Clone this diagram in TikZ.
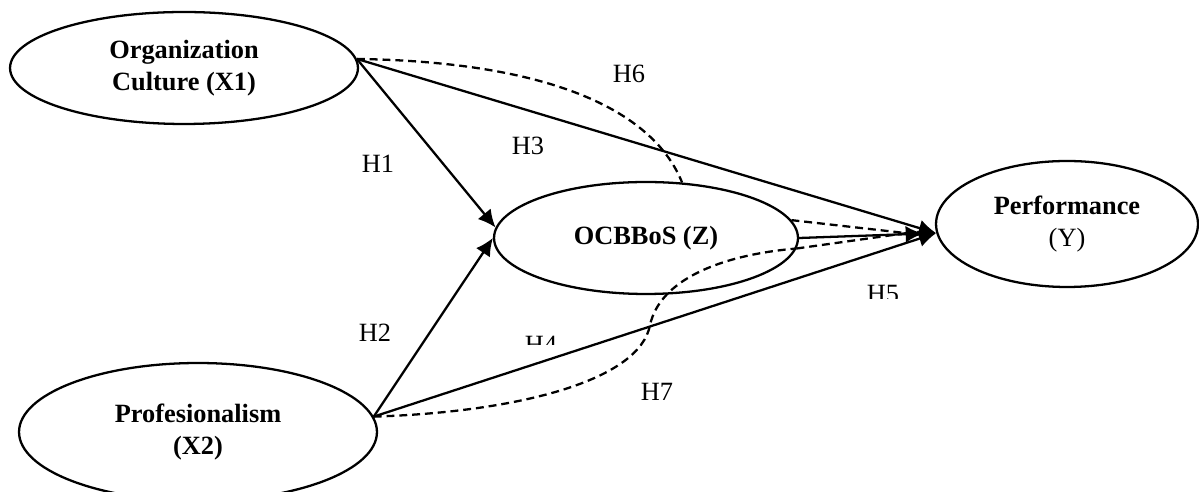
\documentclass[tikz,border=0pt]{standalone}
\usepackage{fontspec}
\setmainfont{Liberation Serif}
\usetikzlibrary{arrows.meta,calc,shapes.geometric}

\begin{document}
\begin{tikzpicture}[x=0.02cm,y=-0.02cm,
  konstrukt/.style={ellipse,draw,line width=1.3pt,inner sep=0pt,align=center,font=\fontsize{15}{18}\selectfont\bfseries},
  pfeil/.style={line width=1.3pt,-{Latex[length=10pt,width=9.5pt]}},
  mediasi/.style={line width=1.3pt,dash pattern=on 4.5pt off 2.8pt},
  hlabel/.style={font=\fontsize{15}{18}\selectfont,inner sep=0pt}]
\clip (0,0) rectangle (1199,492);
\node[konstrukt,minimum width=6.96cm,minimum height=2.24cm] (culture) at (184,68) {\raisebox{-3pt}{Organization}\\\raisebox{-3pt}{Culture (X1)}};
\node[konstrukt,minimum width=7.16cm,minimum height=2.76cm] (prof) at (198,432) {Profesionalism\\(X2)};
\node[konstrukt,minimum width=6.08cm,minimum height=2.24cm] (ocb) at (646,238) {OCBBoS (Z)};
\node[konstrukt,minimum width=5.24cm,minimum height=2.52cm] (perf) at (1067,224) {\raisebox{-3pt}{Performance}\\\raisebox{-3pt}{\mdseries (Y)}};
\coordinate (perfin) at ($(perf.184)+(-30,0)$);
\draw[pfeil] (culture.3) -- (ocb.176);
\draw[pfeil] (prof.5) -- (ocb.west);
\draw[pfeil] (culture.3) -- (perf.184);
\draw[pfeil] (prof.5) -- (perf.184);
\draw[pfeil,shorten >=0.26cm] (ocb.east) -- (perf.184);
\draw[mediasi] (culture.3) .. controls (560,62) and (655,115) .. (ocb.57);
\draw[mediasi] (ocb.7) -- (perfin);
\draw[mediasi] (prof.5) .. controls (520,412) and (640,380) .. (650,325) .. controls (660,280) and (720,255) .. (ocb.-4);
\draw[mediasi] (ocb.-4) -- (perfin);
\node[hlabel] (h1) at (378,164) {H1};
\node[hlabel] (h2) at (375,333) {H2};
\node[hlabel] (h3) at (528,146) {H3};
\node[hlabel] (h6) at (629,74) {H6};
\node[hlabel] (h7) at (657,392) {H7};
\begin{scope}
\clip (500,320) rectangle (600,345);
\node[hlabel] (h4) at (541,345) {H4};
\end{scope}
\begin{scope}
\clip (840,270) rectangle (920,299);
\node[hlabel] (h5) at (883,294) {H5};
\end{scope}
\end{tikzpicture}
\end{document}
